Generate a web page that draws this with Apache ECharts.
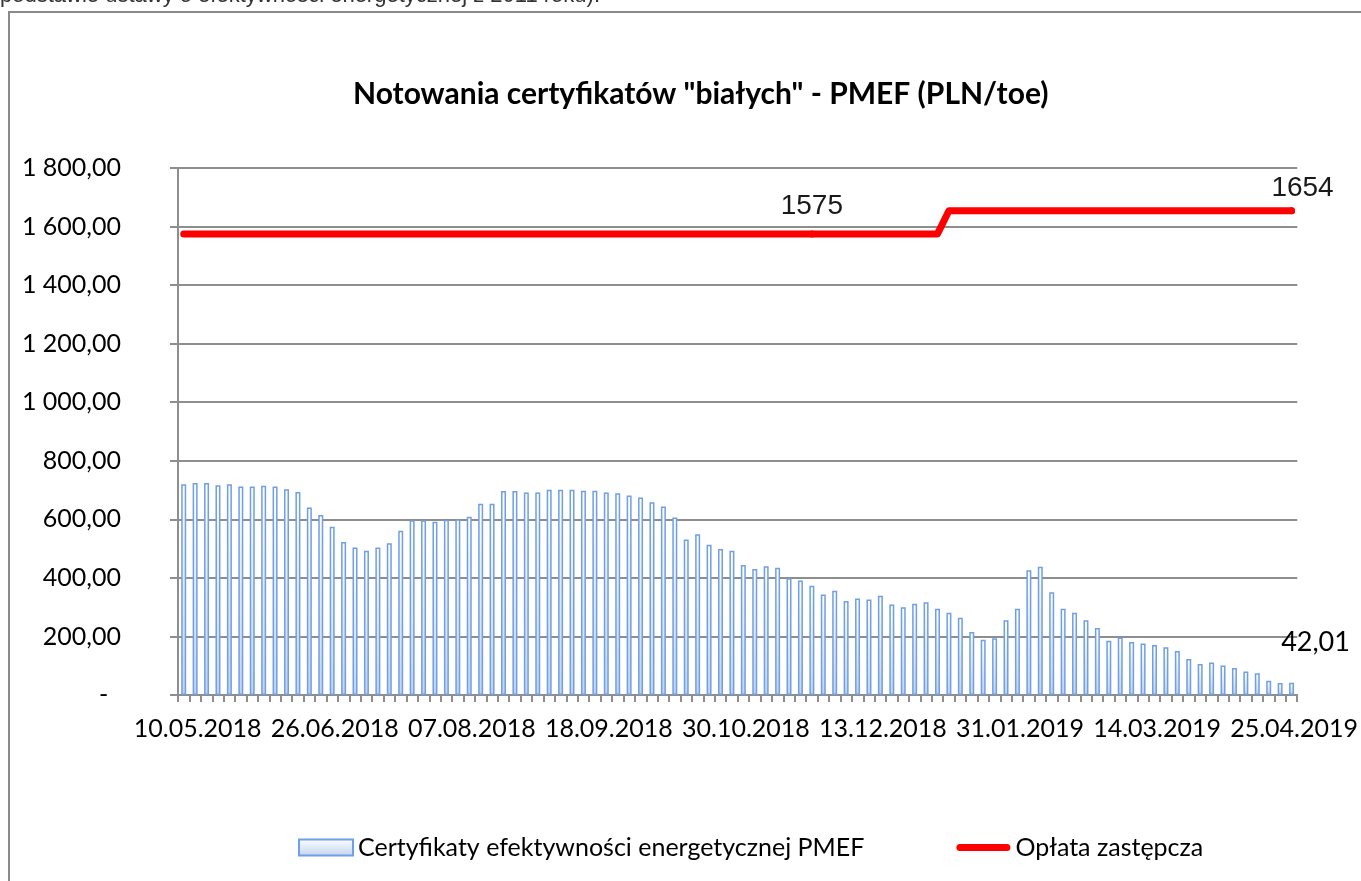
<!DOCTYPE html>
<html>
<head>
<meta charset="utf-8">
<style>
  html, body { margin: 0; padding: 0; background: #fff; }
  #chart { width: 1361px; height: 881px; }
</style>
<script src="https://cdn.jsdelivr.net/npm/echarts@6/dist/echarts.min.js"></script>
</head>
<body>
<div id="chart"></div>
<script>
// daty notowań (sesje wt/czw)
const dates = [
  '10.05.2018', '15.05.2018', '17.05.2018', '22.05.2018', '24.05.2018', '29.05.2018', '05.06.2018', '07.06.2018',
  '12.06.2018', '14.06.2018', '19.06.2018', '21.06.2018', '26.06.2018', '28.06.2018', '03.07.2018', '05.07.2018',
  '10.07.2018', '12.07.2018', '17.07.2018', '19.07.2018', '24.07.2018', '26.07.2018', '31.07.2018', '02.08.2018',
  '07.08.2018', '09.08.2018', '14.08.2018', '16.08.2018', '21.08.2018', '23.08.2018', '28.08.2018', '30.08.2018',
  '04.09.2018', '06.09.2018', '11.09.2018', '13.09.2018', '18.09.2018', '20.09.2018', '25.09.2018', '27.09.2018',
  '02.10.2018', '04.10.2018', '09.10.2018', '11.10.2018', '16.10.2018', '18.10.2018', '23.10.2018', '25.10.2018',
  '30.10.2018', '06.11.2018', '08.11.2018', '13.11.2018', '15.11.2018', '20.11.2018', '22.11.2018', '27.11.2018',
  '29.11.2018', '04.12.2018', '06.12.2018', '11.12.2018', '13.12.2018', '18.12.2018', '20.12.2018', '27.12.2018',
  '03.01.2019', '08.01.2019', '10.01.2019', '15.01.2019', '17.01.2019', '22.01.2019', '24.01.2019', '29.01.2019',
  '31.01.2019', '05.02.2019', '07.02.2019', '12.02.2019', '14.02.2019', '19.02.2019', '21.02.2019', '26.02.2019',
  '28.02.2019', '05.03.2019', '07.03.2019', '12.03.2019', '14.03.2019', '19.03.2019', '21.03.2019', '26.03.2019',
  '28.03.2019', '02.04.2019', '04.04.2019', '09.04.2019', '11.04.2019', '16.04.2019', '18.04.2019', '23.04.2019',
  '25.04.2019', '30.04.2019'
]

// Certyfikaty efektywności energetycznej PMEF (PLN/toe)
const pmef = [
  720, 724, 724, 716, 720, 712, 712, 715, 712, 703, 693, 640, 615, 575, 523, 504,
  493, 504, 518, 561, 597, 597, 592, 599, 600, 609, 653, 653, 697, 697, 692, 692,
  701, 701, 701, 698, 698, 692, 689, 681, 675, 658, 644, 606, 531, 549, 513, 499,
  493, 444, 430, 440, 435, 399, 391, 373, 343, 356, 321, 330, 326, 339, 309, 300,
  312, 317, 295, 281, 264, 215, 189, 194, 255, 295, 426, 438, 351, 295, 281, 255,
  229, 185, 196, 181, 176, 171, 163, 150, 123, 106, 111, 101, 92, 80, 74, 49,
  41, 42.01
]

// Opłata zastępcza (PLN/toe)
const oplata = [
  1575, 1575, 1575, 1575, 1575, 1575, 1575, 1575, 1575, 1575, 1575, 1575, 1575, 1575, 1575, 1575,
  1575, 1575, 1575, 1575, 1575, 1575, 1575, 1575, 1575, 1575, 1575, 1575, 1575, 1575, 1575, 1575,
  1575, 1575, 1575, 1575, 1575, 1575, 1575, 1575, 1575, 1575, 1575, 1575, 1575, 1575, 1575, 1575,
  1575, 1575, 1575, 1575, 1575, 1575, 1575, 1575, 1575, 1575, 1575, 1575, 1575, 1575, 1575, 1575,
  1575, 1575, 1575, 1654, 1654, 1654, 1654, 1654, 1654, 1654, 1654, 1654, 1654, 1654, 1654, 1654,
  1654, 1654, 1654, 1654, 1654, 1654, 1654, 1654, 1654, 1654, 1654, 1654, 1654, 1654, 1654, 1654,
  1654, 1654
]

const yTicks = [0, 200, 400, 600, 800, 1000, 1200, 1400, 1600, 1800]

const FONT = 'Lato'
const GRID_COLOR = '#8e8e8e'
const RED = '#ff0000'

// format liczb jak w Excelu: "1 800,00", zero jako "-"
function fmtPl(v) {
  if (v === 0) return '-  '
  const th = Math.floor(v / 1000)
  const rest = v % 1000
  const s = th > 0 ? th + ' ' + String(rest).padStart(3, '0') : String(rest)
  return s + ',00'
}

const barData = pmef.map((v, i) => {
  if (i !== pmef.length - 1) return v
  return {
    value: v,
    label: {
      show: true, position: 'top', offset: [24, -22],
      formatter: () => String(v).replace('.', ','),
      fontFamily: FONT, fontSize: 27, color: '#000'
    }
  }
})

// etykiety linii: punkt z symbolem o średnicy linii, żeby było gdzie przyczepić tekst
function labelPoint(v, label) {
  return { value: v, symbol: 'circle', symbolSize: 7, label: Object.assign({ show: true, formatter: String(v) }, label) }
}
const lineData = oplata.map((v, i) => {
  if (i === 55) return labelPoint(v, { position: 'top', distance: 10 })
  if (i === oplata.length - 1) return labelPoint(v, { position: 'top', distance: 5, offset: [11, 0] })
  return v
})

const chart = echarts.init(document.getElementById('chart'))
chart.setOption({
  animation: false,
  backgroundColor: '#fff',
  title: {
    text: 'Notowania certyfikatów "białych" - PMEF (PLN/toe)',
    left: 348,
    top: 74,
    textStyle: { fontFamily: FONT, fontSize: 30, fontWeight: 'bold', color: '#000' }
  },
  graphic: [
    {
      type: 'rect', silent: true, z: -1,
      shape: { x: 9, y: 12, width: 1400, height: 900 },
      style: { fill: 'none', stroke: '#8a8a8a', lineWidth: 2 }
    },
    {
      type: 'text', silent: true,
      x: 0, y: -15,
      style: {
        text: 'podstawie ustawy o efektywności energetycznej z 2011 roku).',
        font: '22px "Liberation Sans"', fill: '#333'
      }
    }
  ],
  legend: {
    left: 298,
    top: 835,
    padding: 0,
    itemWidth: 54,
    itemHeight: 16,
    itemGap: 92,
    symbolKeepAspect: true,
    textStyle: { fontFamily: FONT, fontSize: 25, color: '#000' },
    data: [
      { name: 'Certyfikaty efektywności energetycznej PMEF', icon: 'rect' },
      {
        name: 'Opłata zastępcza',
        icon: 'path://M3.5,0 L50.5,0 A3.5,3.5 0 0 1 50.5,7 L3.5,7 A3.5,3.5 0 0 1 3.5,0 Z',
        itemStyle: { color: RED, borderWidth: 0 }
      }
    ]
  },
  grid: { left: 178, right: 60, top: 168, bottom: 186 },
  xAxis: {
    type: 'category',
    data: dates,
    boundaryGap: true,
    axisLine: { lineStyle: { color: GRID_COLOR, width: 2 } },
    axisTick: { show: true, interval: 0, length: 7, lineStyle: { color: GRID_COLOR, width: 2 } },
    axisLabel: {
      interval: 11, margin: 21, padding: [0, 0, 0, 28],
      fontFamily: FONT, fontSize: 25, color: '#000'
    }
  },
  yAxis: {
    type: 'value',
    min: 0, max: 1800, interval: 200,
    axisLine: { show: true, lineStyle: { color: GRID_COLOR, width: 2 } },
    axisTick: { show: true, length: 8, lineStyle: { color: GRID_COLOR, width: 2 } },
    splitLine: { lineStyle: { color: GRID_COLOR, width: 2 } },
    axisLabel: {
      margin: 57,
      fontFamily: FONT, fontSize: 25, color: '#000',
      formatter: v => yTicks.includes(v) ? fmtPl(v) : ''
    }
  },
  series: [
    {
      name: 'Certyfikaty efektywności energetycznej PMEF',
      type: 'bar',
      data: barData,
      barWidth: 5,
      itemStyle: {
        color: new echarts.graphic.LinearGradient(0, 0, 0, 1, [
          { offset: 0, color: '#ffffff' },
          { offset: 1, color: '#c2d3ee' }
        ]),
        borderColor: '#6f9fe4',
        borderWidth: 1.5
      }
    },
    {
      name: 'Opłata zastępcza',
      type: 'line',
      data: lineData,
      symbol: 'none',
      showAllSymbol: true,
      z: 5,
      color: RED,
      itemStyle: { color: RED, borderWidth: 0 },
      lineStyle: { color: RED, width: 7, cap: 'round', join: 'round' },
      label: { fontFamily: '"Liberation Sans"', fontSize: 28, color: '#1a1a1a' }
    }
  ]
})
</script>
</body>
</html>
